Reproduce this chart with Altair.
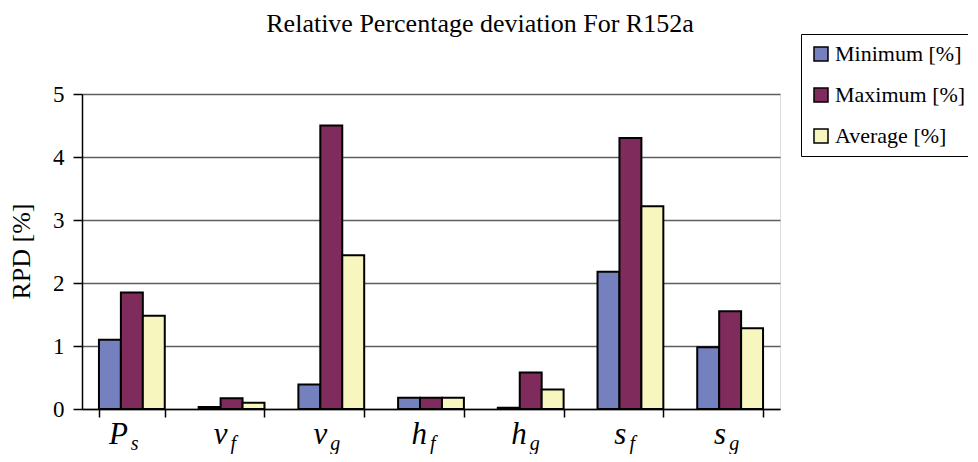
import altair as alt
import pandas as pd

categories = ["Ps", "vf", "vg", "hf", "hg", "sf", "sg"]
main_letters = ["P", "v", "v", "h", "h", "s", "s"]
sub_letters = ["s", "f", "g", "f", "g", "f", "g"]
series = ["Minimum [%]", "Maximum [%]", "Average [%]"]
minimum = [1.10, 0.03, 0.39, 0.18, 0.02, 2.18, 0.98]
maximum = [1.85, 0.17, 4.50, 0.18, 0.58, 4.30, 1.55]
average = [1.48, 0.10, 2.44, 0.18, 0.31, 3.22, 1.28]
colors = ["#7581BF", "#7F2C5D", "#F8F6BF"]
y_ticks = [0, 1, 2, 3, 4, 5]

rows = []
for i, c in enumerate(categories):
    for s, vals in zip(series, [minimum, maximum, average]):
        rows.append({"cat": c, "series": s, "value": vals[i]})
df = pd.DataFrame(rows)
labels = pd.DataFrame({"cat": categories, "main": main_letters, "sub": sub_letters})

FONT = "Liberation Serif"

xscale = alt.Scale(domain=categories, paddingInner=0.34, paddingOuter=0.17)

bars = alt.Chart(df).mark_bar(stroke="black", strokeWidth=2).encode(
    x=alt.X("cat:N", scale=xscale, sort=categories,
            axis=alt.Axis(labels=False, title=None, tickBand="extent", ticks=True,
                          tickSize=8, tickColor="black", tickWidth=1.5,
                          domainColor="black", domainWidth=1.5, grid=False)),
    xOffset=alt.XOffset("series:N", sort=series, scale=alt.Scale(domain=series, paddingInner=0, paddingOuter=0)),
    y=alt.Y("value:Q", scale=alt.Scale(domain=[0, 5]),
            axis=alt.Axis(values=y_ticks, title="RPD [%]", titleFont=FONT, titleFontSize=26,
                          titleFontWeight="normal", titleColor="black", titleX=-61, titleY=157,
                          titleBaseline="middle", titleAngle=270,
                          labelFont=FONT, labelFontSize=23, labelColor="black", labelPadding=9,
                          tickSize=9, tickColor="black", tickWidth=1.5,
                          domainColor="black", domainWidth=1.5,
                          grid=True, gridColor="#5E5E5E", gridWidth=1.5)),
    color=alt.Color("series:N", sort=series,
                    scale=alt.Scale(domain=series, range=colors),
                    legend=alt.Legend(title=None, orient="none", legendX=719, legendY=-60,
                                      strokeColor="black", padding=9, fillColor="white",
                                      symbolType="square", symbolSize=196,
                                      symbolStrokeColor="black", symbolStrokeWidth=1.5,
                                      labelFont=FONT, labelFontSize=22, labelColor="black",
                                      labelOffset=3, rowPadding=19, labelLimit=300)),
)

main_txt = alt.Chart(labels).mark_text(font=FONT, fontSize=31, fontStyle="italic",
                                       align="right", baseline="alphabetic", dx=-4,
                                       color="black").encode(
    x=alt.X("cat:N", scale=xscale, sort=categories),
    y=alt.value(350),
    text="main:N",
)
sub_txt = alt.Chart(labels).mark_text(font=FONT, fontSize=20, fontStyle="italic",
                                      align="left", baseline="alphabetic", dx=-1,
                                      color="black").encode(
    x=alt.X("cat:N", scale=xscale, sort=categories),
    y=alt.value(356),
    text="sub:N",
)

chart = alt.layer(bars, main_txt, sub_txt).properties(
    width=698, height=315,
    title=alt.TitleParams("Relative Percentage deviation For R152a", font=FONT, fontSize=26,
                          fontWeight="normal", color="black", anchor="middle", dx=49, offset=-3),
    autosize=alt.AutoSizeParams(type="none"),
    padding={"left": 74, "top": 86, "right": 188, "bottom": 45},
).configure_view(stroke="#7A7A7A", strokeWidth=1.5).configure(background="white")

chart.save("out.html", embed_options={"renderer": "svg", "actions": False})
